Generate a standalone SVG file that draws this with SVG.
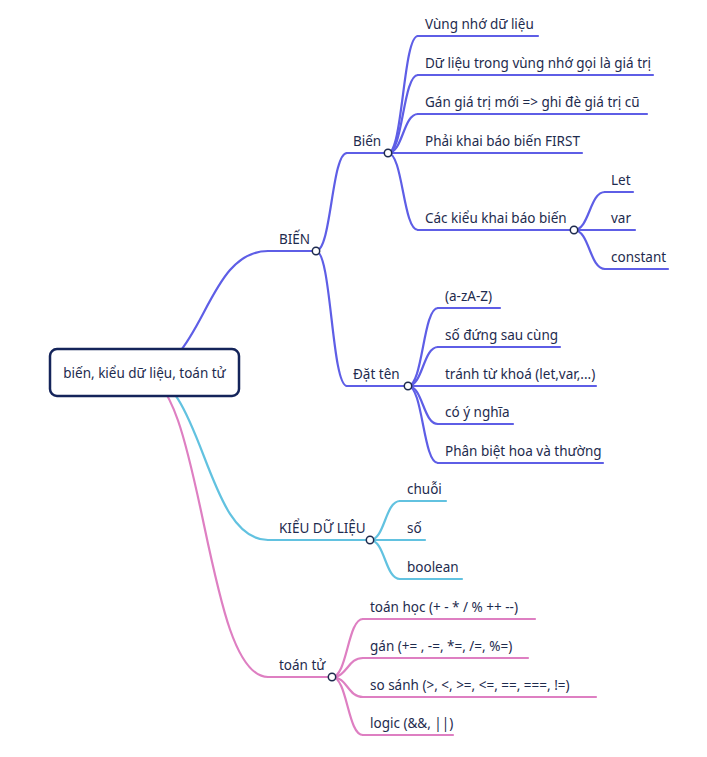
<svg xmlns="http://www.w3.org/2000/svg" width="707" height="757" viewBox="0 0 707 757">
<style>
.l{fill:none;stroke-width:2.2;stroke-linecap:round}
.b{stroke:#5e5ee6}
.c{stroke:#62c2e0}
.p{stroke:#de7fc2}
text{font-family:"Noto Sans","Open Sans","DejaVu Sans",sans-serif;font-size:13.5px;fill:#1e2b4e}
.dot{fill:#fff;stroke:#1e2b4e;stroke-width:1.5}
</style>
<rect width="707" height="757" fill="#fff"/>
<g id="connectors">
<path class="l b" d="M140,373 C204,373 204,251 268,251"/>
<path class="l c" d="M140,373 C204,373 204,540 268,540"/>
<path class="l p" d="M140,373 C204,373 204,677 268,677"/>
<path class="l b" d="M316,251 C331.5,251 331.5,153 347,153"/>
<path class="l b" d="M316,251 C331.5,251 331.5,386 347,386"/>
<path class="l b" d="M388,153 C403,153 403,36 418,36"/>
<path class="l b" d="M388,153 C403,153 403,75 418,75"/>
<path class="l b" d="M388,153 C403,153 403,114 418,114"/>
<path class="l b" d="M388,153 L418,153"/>
<path class="l b" d="M388,153 C403,153 403,230 418,230"/>
<path class="l b" d="M574,230 C589.5,230 589.5,192 605,192"/>
<path class="l b" d="M574,230 L605,230"/>
<path class="l b" d="M574,230 C589.5,230 589.5,269 605,269"/>
<path class="l b" d="M408,386 C423,386 423,308 438,308"/>
<path class="l b" d="M408,386 C423,386 423,347 438,347"/>
<path class="l b" d="M408,386 L438,386"/>
<path class="l b" d="M408,386 C423,386 423,424 438,424"/>
<path class="l b" d="M408,386 C423,386 423,463 438,463"/>
<path class="l c" d="M370,540 C385,540 385,501 400,501"/>
<path class="l c" d="M370,540 L400,540"/>
<path class="l c" d="M370,540 C385,540 385,579 400,579"/>
<path class="l p" d="M332,677 C347.5,677 347.5,619 363,619"/>
<path class="l p" d="M332,677 C347.5,677 347.5,658 363,658"/>
<path class="l p" d="M332,677 C347.5,677 347.5,697 363,697"/>
<path class="l p" d="M332,677 C347.5,677 347.5,735 363,735"/>
</g>
<g id="root">
<rect x="50" y="349" width="189" height="47" rx="7" fill="#fff" stroke="#14245a" stroke-width="2.5"/>
<text x="144.5" y="378" text-anchor="middle">biến, kiểu dữ liệu, toán tử</text>
</g>
<g id="n-bien-main"><path class="l b" d="M268,251 H316"/><text x="279" y="244">BIẾN</text><circle class="dot" cx="316" cy="251" r="3.7"/></g>
<g id="n-bien"><path class="l b" d="M347,153 H388"/><text x="353" y="146">Biến</text><circle class="dot" cx="388" cy="153" r="3.7"/></g>
<g id="n-vung"><path class="l b" d="M418,36 H538"/><text x="425" y="29">Vùng nhớ dữ liệu</text></g>
<g id="n-dulieu"><path class="l b" d="M418,75 H653"/><text x="425" y="68">Dữ liệu trong vùng nhớ gọi là giá trị</text></g>
<g id="n-gan"><path class="l b" d="M418,114 H647"/><text x="425" y="107">Gán giá trị mới =&gt; ghi đè giá trị cũ</text></g>
<g id="n-phai"><path class="l b" d="M418,153 H582"/><text x="425" y="146">Phải khai báo biến FIRST</text></g>
<g id="n-cackieu"><path class="l b" d="M418,230 H574"/><text x="425" y="223">Các kiểu khai báo biến</text><circle class="dot" cx="574" cy="230" r="3.7"/></g>
<g id="n-let"><path class="l b" d="M605,192 H633"/><text x="611" y="185">Let</text></g>
<g id="n-var"><path class="l b" d="M605,230 H635"/><text x="611" y="223">var</text></g>
<g id="n-constant"><path class="l b" d="M605,269 H668"/><text x="611" y="262">constant</text></g>
<g id="n-dat"><path class="l b" d="M347,386 H408"/><text x="353" y="379">Đặt tên</text><circle class="dot" cx="408" cy="386" r="3.7"/></g>
<g id="n-az"><path class="l b" d="M438,308 H500"/><text x="445" y="301">(a-zA-Z)</text></g>
<g id="n-so-dung"><path class="l b" d="M438,347 H560"/><text x="445" y="340">số đứng sau cùng</text></g>
<g id="n-tranh"><path class="l b" d="M438,386 H596"/><text x="445" y="379">tránh từ khoá (let,var,...)</text></g>
<g id="n-coy"><path class="l b" d="M438,424 H513"/><text x="445" y="417">có ý nghĩa</text></g>
<g id="n-phanbiet"><path class="l b" d="M438,463 H603"/><text x="445" y="456">Phân biệt hoa và thường</text></g>
<g id="n-kieu"><path class="l c" d="M268,540 H370"/><text x="279" y="533">KIỂU DỮ LIỆU</text><circle class="dot" cx="370" cy="540" r="3.7"/></g>
<g id="n-chuoi"><path class="l c" d="M400,501 H446"/><text x="407" y="494">chuỗi</text></g>
<g id="n-so"><path class="l c" d="M400,540 H425"/><text x="407" y="533">số</text></g>
<g id="n-boolean"><path class="l c" d="M400,579 H462"/><text x="407" y="572">boolean</text></g>
<g id="n-toantu"><path class="l p" d="M268,677 H332"/><text x="279" y="670">toán tử</text><circle class="dot" cx="332" cy="677" r="3.7"/></g>
<g id="n-toanhoc"><path class="l p" d="M363,619 H535"/><text x="370" y="612">toán học (+ - * / % ++ --)</text></g>
<g id="n-gan2"><path class="l p" d="M363,658 H528"/><text x="370" y="651">gán (+= , -=, *=, /=, %=)</text></g>
<g id="n-sosanh"><path class="l p" d="M363,697 H596"/><text x="370" y="690">so sánh (&gt;, &lt;, &gt;=, &lt;=, ==, ===, !=)</text></g>
<g id="n-logic"><path class="l p" d="M363,735 H453"/><text x="370" y="728">logic (&amp;&amp;, ||)</text></g>
</svg>
